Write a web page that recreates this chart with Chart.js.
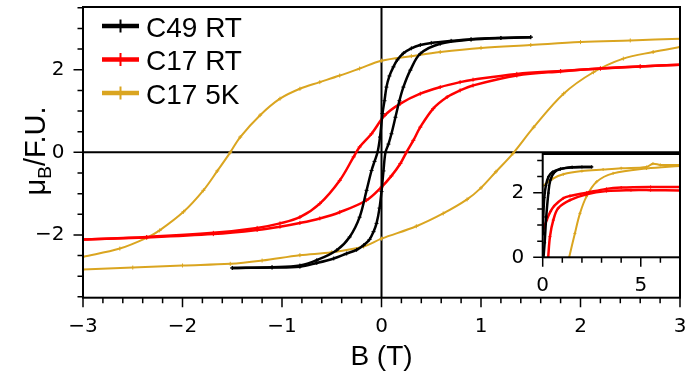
<!DOCTYPE html>
<html>
<head>
<meta charset="utf-8">
<script src="https://cdn.jsdelivr.net/npm/chart.js@4.4.1/dist/chart.umd.min.js"></script>
<style>
  html, body { margin: 0; padding: 0; background: #fff; }
  #wrap { position: relative; width: 685px; height: 381px; }
  #main { position: absolute; left: 0; top: 0; }
  #inset { position: absolute; left: 495px; top: 145px; }
</style>
</head>
<body>
<div id="wrap">
  <canvas id="main" width="685" height="381"></canvas>
  <canvas id="inset" width="190" height="160"></canvas>
</div>
<script>
// hysteresis branches: field B (T), moment (muB/F.U.)
const c49DownB = [1.5, 1.2, 0.9, 0.7, 0.5, 0.39, 0.3, 0.22, 0.16, 0.12, 0.08, 0.05, 0.03, 0.01, -0.015, -0.04, -0.07, -0.1, -0.15, -0.22, -0.32, -0.45, -0.65, -0.82, -1.1, -1.5]
const c49DownM = [2.79, 2.77, 2.74, 2.70, 2.65, 2.60, 2.52, 2.40, 2.24, 2.07, 1.85, 1.58, 1.25, 0.94, 0.37, 0.0, -0.22, -0.44, -0.92, -1.57, -2.05, -2.37, -2.61, -2.74, -2.78, -2.80]
const c49UpB = [-1.5, -1.1, -0.82, -0.65, -0.48, -0.35, -0.25, -0.18, -0.12, -0.08, -0.05, -0.02, 0.0, 0.02, 0.04, 0.07, 0.1, 0.14, 0.18, 0.22, 0.29, 0.39, 0.59, 0.9, 1.2, 1.5]
const c49UpM = [-2.80, -2.79, -2.77, -2.68, -2.57, -2.45, -2.36, -2.25, -2.11, -1.92, -1.72, -1.35, -0.95, -0.45, 0.0, 0.2, 0.45, 0.85, 1.25, 1.58, 1.99, 2.39, 2.63, 2.73, 2.77, 2.79]

const c17rtDownB = [3, 2.6, 2.2, 1.8, 1.36, 0.92, 0.79, 0.59, 0.39, 0.19, 0.035, -0.1, -0.22, -0.28, -0.42, -0.62, -0.82, -1.02, -1.25, -1.69, -2.36, -3]
const c17rtDownM = [2.12, 2.08, 2.03, 1.97, 1.90, 1.76, 1.70, 1.58, 1.42, 1.18, 0.90, 0.45, 0.13, -0.11, -0.68, -1.24, -1.57, -1.72, -1.83, -1.95, -2.05, -2.11]
const c17rtUpB = [-3, -2.36, -1.69, -1.25, -1.02, -0.82, -0.62, -0.42, -0.15, 0.0, 0.1, 0.19, 0.25, 0.32, 0.39, 0.52, 0.66, 0.79, 0.92, 1.36, 1.8, 2.2, 2.6, 3]
const c17rtUpM = [-2.11, -2.06, -1.98, -1.88, -1.80, -1.71, -1.60, -1.45, -1.16, -0.84, -0.57, -0.27, 0.0, 0.29, 0.61, 1.06, 1.34, 1.50, 1.62, 1.86, 1.96, 2.03, 2.08, 2.12]

const c175kDownB = [3, 2.5, 2.0, 1.5, 1.0, 0.59, 0.3, 0, -0.22, -0.42, -0.62, -0.82, -1.02, -1.22, -1.42, -1.52, -1.65, -1.79, -1.99, -2.23, -2.36, -2.63, -3]
const c175kDownM = [2.75, 2.71, 2.67, 2.60, 2.53, 2.43, 2.33, 2.22, 2.03, 1.86, 1.70, 1.54, 1.30, 0.90, 0.37, 0.0, -0.45, -0.92, -1.44, -1.89, -2.07, -2.33, -2.53]
const c175kUpB = [-3, -2.5, -2.0, -1.52, -1.2, -0.82, -0.5, -0.18, 0, 0.35, 0.62, 0.86, 1.0, 1.15, 1.32, 1.53, 1.83, 2.13, 2.43, 2.73, 3]
const c175kUpM = [-2.84, -2.79, -2.74, -2.70, -2.62, -2.49, -2.42, -2.28, -2.09, -1.79, -1.48, -1.14, -0.86, -0.47, -0.03, 0.61, 1.42, 1.94, 2.27, 2.43, 2.55]

// inset: first quadrant up to 7 T
const insC49UpB = [0.04, 0.1, 0.18, 0.29, 0.39, 0.59, 0.9, 1.5, 2.0, 2.5]
const insC49UpM = [0.0, 0.45, 1.25, 1.99, 2.39, 2.63, 2.73, 2.79, 2.80, 2.80]
const insC49DownB = [2.5, 1.5, 0.9, 0.5, 0.3, 0.16, 0.08, 0.03, 0.0]
const insC49DownM = [2.80, 2.79, 2.74, 2.64, 2.50, 2.22, 1.85, 1.25, 0.7]
const insC17rtUpB = [0.28, 0.37, 0.54, 0.79, 1.39, 2.24, 3.25, 4.5, 5.5, 7]
const insC17rtUpM = [0.0, 0.64, 1.15, 1.52, 1.77, 1.95, 2.05, 2.08, 2.08, 2.07]
const insC17rtDownB = [7, 5.5, 4.0, 3.25, 2.24, 1.39, 1.05, 0.6, 0.4, 0.2, 0.0]
const insC17rtDownM = [2.18, 2.18, 2.16, 2.12, 2.0, 1.9, 1.83, 1.6, 1.42, 1.15, 0.8]
const insC175kUpB = [1.35, 1.64, 1.90, 2.23, 2.75, 3.59, 5.29, 7]
const insC175kUpM = [0.0, 0.74, 1.36, 1.88, 2.34, 2.60, 2.75, 2.83]
const insC175kDownB = [7, 6.0, 5.62, 5.3, 4.0, 3.08, 2.0, 1.05, 0.5, 0]
const insC175kDownM = [2.86, 2.86, 2.90, 2.80, 2.76, 2.72, 2.67, 2.57, 2.43, 2.21]

const seriesNames = ['C49 RT', 'C17 RT', 'C17 5K']
const seriesColors = ['#000000', '#ff0000', '#daa520']

Chart.defaults.font.family = 'DejaVu Sans'
Chart.defaults.color = '#000'

const pts = (bs, ms) => bs.map((b, i) => ({ x: b, y: ms[i] }))
const fmt = v => (v < 0 ? '\u2212' + (-v) : String(v))

function branch(k, bs, ms, r) {
  return {
    label: seriesNames[k],
    data: pts(bs, ms),
    showLine: true,
    borderColor: seriesColors[k],
    backgroundColor: seriesColors[k],
    borderWidth: k === 2 ? 2 : 2.5,
    pointStyle: 'cross',
    pointRadius: r,
    pointBorderWidth: 1,
    pointBorderColor: seriesColors[k],
    tension: 0.35
  }
}

// spines, ticks (major + minor), zero lines
const frame = {
  id: 'frame',
  beforeDraw(chart, args, o) {
    if (!o.fill) return
    const { ctx, chartArea: a } = chart
    ctx.save()
    ctx.fillStyle = '#fff'
    ctx.fillRect(a.left, a.top, a.width, a.height)
    ctx.restore()
  },
  beforeDatasetsDraw(chart, args, o) {
    if (!o.zero) return
    const { ctx, chartArea: a, scales: { x, y } } = chart
    const x0 = x.getPixelForValue(0)
    const y0 = y.getPixelForValue(0)
    ctx.save()
    ctx.strokeStyle = '#000'
    ctx.lineWidth = 2
    ctx.beginPath()
    ctx.moveTo(x0, a.top); ctx.lineTo(x0, a.bottom)
    ctx.moveTo(a.left, y0); ctx.lineTo(a.right, y0)
    ctx.stroke()
    ctx.restore()
  },
  afterDraw(chart, args, o) {
    const { ctx, chartArea: a, scales: { x, y } } = chart
    const isMajor = (v, step) => Math.abs(v / step - Math.round(v / step)) < 1e-6
    ctx.save()
    ctx.strokeStyle = '#000'
    ctx.lineWidth = 1.5
    ctx.beginPath()
    for (let i = Math.ceil(x.min / o.xMinor - 1e-6); i * o.xMinor <= x.max + 1e-6; i++) {
      const v = i * o.xMinor
      const p = x.getPixelForValue(v)
      ctx.moveTo(p, a.bottom); ctx.lineTo(p, a.bottom + (isMajor(v, o.xMajor) ? 9.5 : 5.5))
    }
    for (let i = Math.ceil(y.min / o.yMinor - 1e-6); i * o.yMinor <= y.max + 1e-6; i++) {
      const v = i * o.yMinor
      const p = y.getPixelForValue(v)
      ctx.moveTo(a.left, p); ctx.lineTo(a.left - (isMajor(v, o.yMajor) ? 9.5 : 5.5), p)
    }
    ctx.stroke()
    ctx.lineWidth = 2
    ctx.strokeRect(a.left, a.top, a.width, a.height)
    ctx.restore()
  }
}

// legend box and y title with subscript
const notes = {
  id: 'notes',
  afterDraw(chart) {
    const { ctx, chartArea: a } = chart
    ctx.save()
    seriesNames.forEach((name, i) => {
      const yc = 26 + i * 33.5
      ctx.fillStyle = seriesColors[i]
      ctx.fillRect(a.left + 19, yc - 2.25, 37, 4.5)
      ctx.fillRect(a.left + 36.5, yc - 6.5, 2, 13)
      ctx.fillStyle = '#000'
      ctx.font = '28px "Liberation Sans"'
      ctx.textBaseline = 'alphabetic'
      ctx.fillText(name, a.left + 63, yc + 10.7)
    })
    const parts = [['\u03bc', 29, 0], ['B', 19, 6], ['/F.U.', 29, 0]]
    ctx.translate(45, 151)
    ctx.rotate(-Math.PI / 2)
    let w = 0
    parts.forEach(p => { ctx.font = p[1] + 'px "Liberation Sans"'; w += ctx.measureText(p[0]).width })
    let cx = -w / 2
    parts.forEach(p => {
      ctx.font = p[1] + 'px "Liberation Sans"'
      ctx.fillText(p[0], cx, p[2])
      cx += ctx.measureText(p[0]).width
    })
    ctx.restore()
  }
}

const tickFont = { family: 'DejaVu Sans', size: 20 }

new Chart(document.getElementById('main'), {
  type: 'scatter',
  data: {
    datasets: [
      branch(0, c49DownB, c49DownM, 2), branch(0, c49UpB, c49UpM, 2),
      branch(1, c17rtDownB, c17rtDownM, 2), branch(1, c17rtUpB, c17rtUpM, 2),
      branch(2, c175kDownB, c175kDownM, 2), branch(2, c175kUpB, c175kUpM, 2)
    ]
  },
  options: {
    responsive: false,
    animation: false,
    layout: { padding: { top: 7, right: 5, left: 0, bottom: 0 } },
    plugins: {
      legend: { display: false },
      tooltip: { enabled: false },
      frame: { zero: true, xMinor: 0.2, xMajor: 1, yMinor: 0.5, yMajor: 2 }
    },
    scales: {
      x: {
        type: 'linear', min: -3, max: 3,
        grid: { display: false, drawTicks: false },
        border: { display: false },
        ticks: { stepSize: 1, includeBounds: false, padding: 17.5, font: tickFont, callback: fmt, maxRotation: 0 },
        title: { display: true, text: 'B (T)', font: { family: 'Liberation Sans', size: 28 }, padding: { top: 0, bottom: 6.5 } },
        afterFit: s => { s.height = 83.3; s.paddingLeft = 0; s.paddingRight = 0 }
      },
      y: {
        type: 'linear', min: -3.52, max: 3.52,
        grid: { display: false, drawTicks: false },
        border: { display: false },
        ticks: { stepSize: 2, includeBounds: false, padding: 18.5, font: tickFont, callback: fmt },
        afterFit: s => { s.width = 83; s.paddingTop = 0; s.paddingBottom = 0 }
      }
    }
  },
  plugins: [frame, notes]
})

new Chart(document.getElementById('inset'), {
  type: 'scatter',
  data: {
    datasets: [
      branch(0, insC49UpB, insC49UpM, 1.5), branch(0, insC49DownB, insC49DownM, 1.5),
      branch(1, insC17rtUpB, insC17rtUpM, 1.5), branch(1, insC17rtDownB, insC17rtDownM, 1.5),
      branch(2, insC175kUpB, insC175kUpM, 1.5), branch(2, insC175kDownB, insC175kDownM, 1.5)
    ]
  },
  options: {
    responsive: false,
    animation: false,
    layout: { padding: { top: 9, right: 5, left: 0, bottom: 0 } },
    plugins: {
      legend: { display: false },
      tooltip: { enabled: false },
      frame: { fill: true, xMinor: 1, xMajor: 5, yMinor: 0.5, yMajor: 2 }
    },
    scales: {
      x: {
        type: 'linear', min: 0, max: 7,
        grid: { display: false, drawTicks: false },
        border: { display: false },
        ticks: { stepSize: 5, includeBounds: false, padding: 16.5, font: tickFont, maxRotation: 0 },
        afterFit: s => { s.height = 47.7; s.paddingLeft = 0; s.paddingRight = 0 }
      },
      y: {
        type: 'linear', min: 0, max: 3.2,
        grid: { display: false, drawTicks: false },
        border: { display: false },
        ticks: { stepSize: 2, includeBounds: false, padding: 18.5, font: tickFont },
        afterFit: s => { s.width = 47.7; s.paddingTop = 0; s.paddingBottom = 0 }
      }
    }
  },
  plugins: [frame]
})
</script>
</body>
</html>
